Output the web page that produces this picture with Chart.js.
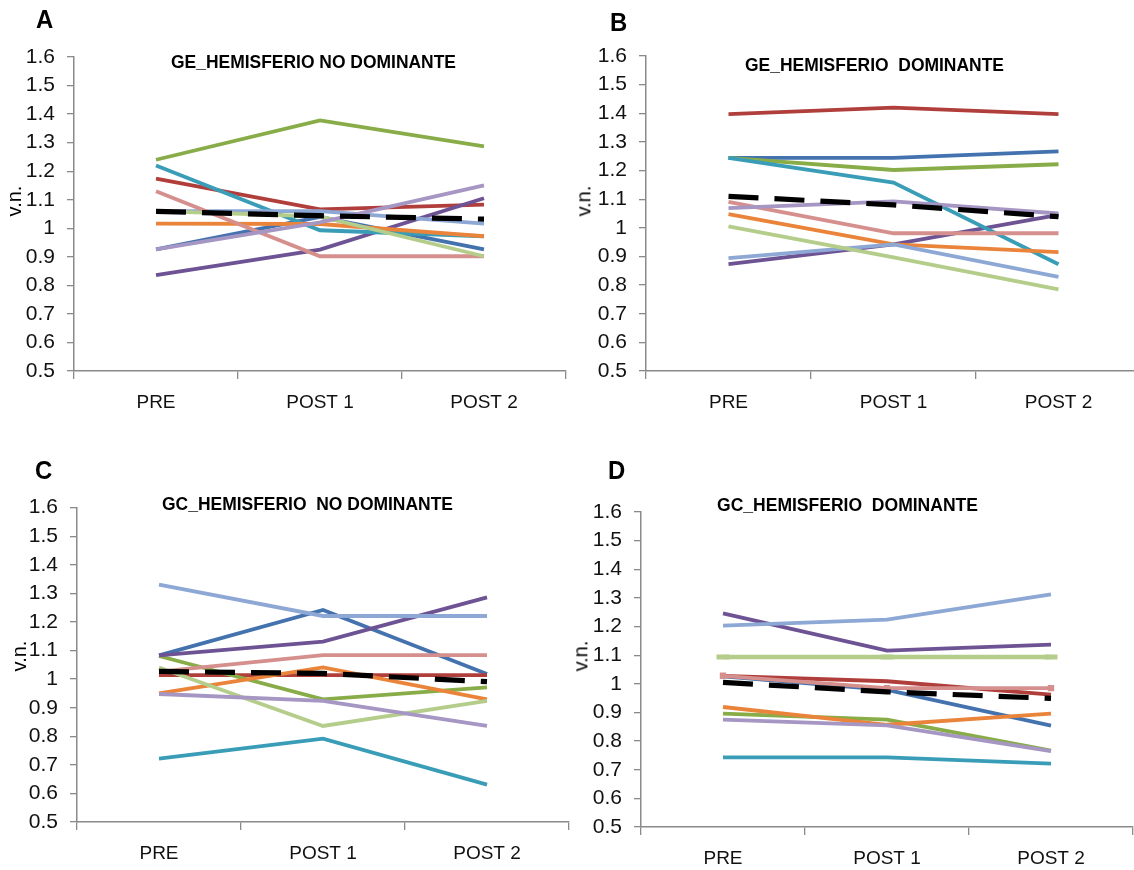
<!DOCTYPE html>
<html>
<head>
<meta charset="utf-8">
<script src="https://cdn.jsdelivr.net/npm/chart.js@4.4.1/dist/chart.umd.min.js"></script>
<style>
  html, body { margin: 0; padding: 0; background: #ffffff; }
  body { width: 1134px; height: 870px; position: relative; overflow: hidden; }
  canvas { position: absolute; }
  .txt { position: absolute; white-space: pre; line-height: 1; color: #000; transform-origin: 0 0;
         font-family: 'Liberation Sans Narrow', 'Liberation Sans', Arial, sans-serif; }
</style>
</head>
<body>
<script>
// ---- shared axes ----
const categories = ['PRE', 'POST 1', 'POST 2'];
const yMin = 0.5;
const yMax = 1.6;
const yStep = 0.1;

// ---- A: GE, hemisferio no dominante ----
const geNoDom1  = [0.926, 1.040, 0.926];
const geNoDom2  = [1.174, 1.066, 1.083];
const geNoDom3  = [1.240, 1.378, 1.287];
const geNoDom4  = [0.836, 0.925, 1.105];
const geNoDom5  = [1.220, 0.993, 0.972];
const geNoDom6  = [1.016, 1.015, 0.972];
const geNoDom7  = [1.060, 1.060, 1.016];
const geNoDom8  = [1.130, 0.902, 0.902];
const geNoDom9  = [1.060, 1.042, 0.902];
const geNoDom10 = [0.926, 1.021, 1.150];
const geNoDomMean = [1.059, 1.044, 1.032];

// ---- B: GE, hemisferio dominante ----
const geDom1  = [1.244, 1.244, 1.267];
const geDom2  = [1.397, 1.420, 1.397];
const geDom3  = [1.244, 1.202, 1.222];
const geDom4  = [0.873, 0.942, 1.045];
const geDom5  = [1.244, 1.158, 0.873];
const geDom6  = [1.048, 0.942, 0.915];
const geDom7  = [0.894, 0.942, 0.829];
const geDom8  = [1.091, 0.981, 0.981];
const geDom9  = [1.005, 0.897, 0.785];
const geDom10 = [1.069, 1.092, 1.050];
const geDomMean = [1.110, 1.080, 1.039];

// ---- C: GC, hemisferio no dominante ----
const gcNoDom1  = [1.083, 1.242, 1.018];
const gcNoDom2  = [1.014, 1.014, 1.014];
const gcNoDom3  = [1.081, 0.929, 0.971];
const gcNoDom4  = [1.083, 1.131, 1.286];
const gcNoDom5  = [0.722, 0.792, 0.631];
const gcNoDom6  = [0.950, 1.041, 0.929];
const gcNoDom7  = [1.331, 1.221, 1.221];
const gcNoDom8  = [1.026, 1.084, 1.084];
const gcNoDom9  = [1.041, 0.836, 0.924];
const gcNoDom10 = [0.948, 0.924, 0.836];
const gcNoDomMean = [1.027, 1.020, 0.991];

// ---- D: GC, hemisferio dominante ----
const gcDom1  = [1.026, 0.979, 0.854];
const gcDom2  = [1.028, 1.009, 0.962];
const gcDom3  = [0.896, 0.875, 0.767];
const gcDom4  = [1.246, 1.116, 1.137];
const gcDom5  = [0.743, 0.743, 0.721];
const gcDom6  = [0.919, 0.857, 0.896];
const gcDom7  = [1.203, 1.224, 1.312];
const gcDom8  = [1.028, 0.985, 0.985];
const gcDom9  = [1.094, 1.094, 1.094];
const gcDom10 = [0.875, 0.855, 0.765];
const gcDomMean = [1.005, 0.972, 0.949];

// line colours, one per subject
const seriesColors = ['#4372AE', '#B03F3C', '#88AC48', '#6D5393', '#3A9DB7',
                      '#E9843A', '#8DA8D4', '#D58F8D', '#B5CD8B', '#A696C3'];

const FONT = "'Liberation Sans Narrow', 'Liberation Sans', Arial, sans-serif";
Chart.defaults.font.family = FONT;
Chart.defaults.color = '#111111';

const panels = [
  { letter: 'A', title: 'GE_HEMISFERIO NO DOMINANTE',
    series: [geNoDom1, geNoDom2, geNoDom3, geNoDom4, geNoDom5, geNoDom6, geNoDom7, geNoDom8, geNoDom9, geNoDom10],
    mean: geNoDomMean,
    canvas: { left: 0, top: 20, width: 575, height: 410 },
    area: { left: 74, top: 57, right: 566, bottom: 371 },
    letterPos: { cx: 44.5, cy: 18.5 }, titlePos: { left: 171, width: 285, cy: 61.5 },
    vnPos: { cx: 16, cy: 201 } },
  { letter: 'B', title: 'GE_HEMISFERIO  DOMINANTE',
    series: [geDom1, geDom2, geDom3, geDom4, geDom5, geDom6, geDom7, geDom8, geDom9, geDom10],
    mean: geDomMean,
    canvas: { left: 575, top: 20, width: 575, height: 410 },
    area: { left: 646, top: 56, right: 1141, bottom: 371 },
    letterPos: { cx: 619, cy: 22 }, titlePos: { left: 745, width: 259, cy: 64 },
    vnPos: { cx: 584.5, cy: 201 } },
  { letter: 'C', title: 'GC_HEMISFERIO  NO DOMINANTE',
    series: [gcNoDom1, gcNoDom2, gcNoDom3, gcNoDom4, gcNoDom5, gcNoDom6, gcNoDom7, gcNoDom8, gcNoDom9, gcNoDom10],
    mean: gcNoDomMean,
    canvas: { left: 0, top: 470, width: 575, height: 400 },
    area: { left: 77, top: 507.7, right: 569, bottom: 822 },
    letterPos: { cx: 43.5, cy: 469.5 }, titlePos: { left: 162, width: 291, cy: 503.5 },
    vnPos: { cx: 21, cy: 656 } },
  { letter: 'D', title: 'GC_HEMISFERIO  DOMINANTE',
    series: [gcDom1, gcDom2, gcDom3, gcDom4, gcDom5, gcDom6, gcDom7, gcDom8, gcDom9, gcDom10],
    mean: gcDomMean,
    canvas: { left: 575, top: 470, width: 575, height: 400 },
    area: { left: 641, top: 512, right: 1133, bottom: 827 },
    letterPos: { cx: 617, cy: 469.5 }, titlePos: { left: 717, width: 261, cy: 504.5 },
    vnPos: { cx: 582, cy: 656 },
    markers: true }
];

const AXIS_COLOR = '#8a8a8a';

function makeText(text, fs, bold) {
  const d = document.createElement('div');
  d.className = 'txt';
  d.textContent = text;
  d.style.fontSize = fs + 'px';
  d.style.fontWeight = bold ? 'bold' : 'normal';
  d.style.zIndex = 5;
  document.body.appendChild(d);
  return d;
}

// text placed by left edge + target width, vertically centred on cap height
function placeFitted(text, fs, bold, left, width, cy) {
  const d = makeText(text, fs, bold);
  const w = d.getBoundingClientRect().width;
  d.style.left = left + 'px';
  d.style.top = (cy - 0.4885 * fs) + 'px';
  d.style.transform = 'scaleX(' + (width / w) + ')';
}

function placeCentered(text, fs, bold, cx, cy, sx) {
  const d = makeText(text, fs, bold);
  const w = d.getBoundingClientRect().width;
  d.style.left = (cx - w * sx / 2) + 'px';
  d.style.top = (cy - 0.4885 * fs) + 'px';
  d.style.transform = 'scaleX(' + sx + ')';
}

function placeVertical(text, fs, cx, cy) {
  const d = makeText(text, fs, false);
  const r = d.getBoundingClientRect();
  d.style.transformOrigin = '50% 50%';
  d.style.left = (cx - r.width / 2 - 1.5) + 'px';
  d.style.top = (cy - r.height / 2) + 'px';
  d.style.transform = 'rotate(-90deg)';
}

function fmtTick(v) {
  return String(Number(v.toFixed(1)));
}

panels.forEach((p) => {
  const c = document.createElement('canvas');
  c.width = p.canvas.width;
  c.height = p.canvas.height;
  c.style.left = p.canvas.left + 'px';
  c.style.top = p.canvas.top + 'px';
  c.style.width = p.canvas.width + 'px';
  c.style.height = p.canvas.height + 'px';
  document.body.appendChild(c);

  const yWidth = p.area.left - p.canvas.left;
  const padTop = p.area.top - p.canvas.top;
  const padRight = p.canvas.left + p.canvas.width - p.area.right;
  const xHeight = p.canvas.top + p.canvas.height - p.area.bottom;

  const datasets = p.series.map((vals, i) => {
    const ds = {
      label: 'S' + (i + 1),
      data: vals,
      borderColor: seriesColors[i],
      backgroundColor: seriesColors[i],
      borderWidth: 3.8,
      pointRadius: 0,
      tension: 0,
      fill: false,
      order: 10 - i
    };
    if (p.markers && i === 8) {
      ds.borderWidth = 4.5;
      ds.pointStyle = 'line';
      ds.pointRadius = 6.5;
      ds.pointBorderWidth = 5;
      ds.pointBorderColor = seriesColors[i];
    }
    if (p.markers && i === 7) {
      ds.pointStyle = 'rect';
      ds.pointRadius = 4.5;
      ds.pointBorderWidth = 0;
      ds.pointBackgroundColor = seriesColors[i];
    }
    return ds;
  });
  datasets.push({
    label: 'Media',
    data: p.mean,
    borderColor: '#000000',
    borderWidth: 5.2,
    borderDash: [30, 16],
    pointRadius: 0,
    tension: 0,
    fill: false,
    order: -1
  });

  new Chart(c, {
    type: 'line',
    data: { labels: categories, datasets },
    options: {
      responsive: false,
      animation: false,
      devicePixelRatio: 1,
      layout: { padding: { top: padTop, right: padRight, left: 0, bottom: 0 } },
      plugins: { legend: { display: false }, tooltip: { enabled: false }, title: { display: false } },
      scales: {
        x: {
          type: 'category',
          offset: true,
          grid: { offset: true, drawOnChartArea: false, drawTicks: true, tickLength: 8,
                  color: AXIS_COLOR, lineWidth: 1.3 },
          border: { color: AXIS_COLOR, width: 1.5 },
          ticks: { color: '#111111', font: { size: 19 }, padding: 12, maxRotation: 0, autoSkip: false },
          afterFit: (s) => { s.height = xHeight; }
        },
        y: {
          min: yMin,
          max: yMax,
          grid: { drawOnChartArea: false, drawTicks: true, tickLength: 7, color: AXIS_COLOR, lineWidth: 1.3 },
          border: { color: AXIS_COLOR, width: 1.5 },
          ticks: { stepSize: yStep, color: '#111111', font: { size: 21 }, padding: 12,
                   autoSkip: false, callback: (v) => fmtTick(v) },
          afterFit: (s) => { s.width = yWidth; }
        }
      }
    }
  });

  placeCentered(p.letter, 26, true, p.letterPos.cx, p.letterPos.cy, 0.92);
  placeFitted(p.title, 19, true, p.titlePos.left, p.titlePos.width, p.titlePos.cy);
  placeVertical('v.n.', 20, p.vnPos.cx, p.vnPos.cy);
});
</script>
</body>
</html>
